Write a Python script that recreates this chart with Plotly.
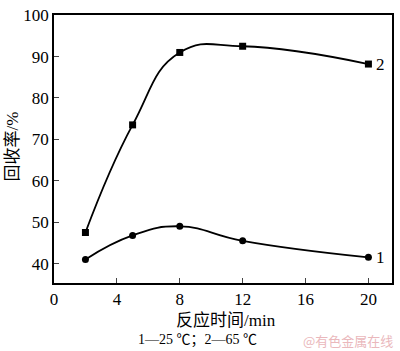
import plotly.graph_objects as go

time_min = [2, 5, 8, 12, 20]
s1_25C = [41.0, 46.8, 49.0, 45.5, 41.5]
s2_65C = [47.5, 73.5, 91.0, 92.5, 88.2]
x_ticks = [0, 4, 8, 12, 16, 20]
y_ticks = [40, 50, 60, 70, 80, 90, 100]

serif = "Liberation Serif, Times New Roman, Noto Sans CJK SC, serif"

fig = go.Figure()
fig.add_trace(go.Scatter(x=time_min, y=s2_65C, mode="lines+markers",
                         line=dict(color="black", width=1.8, shape="spline", smoothing=1.3),
                         marker=dict(symbol="square", size=7, color="black"), showlegend=False))
fig.add_trace(go.Scatter(x=time_min, y=s1_25C, mode="lines+markers",
                         line=dict(color="black", width=1.8, shape="spline", smoothing=1.3),
                         marker=dict(symbol="circle", size=7, color="black"), showlegend=False))

fig.add_annotation(x=time_min[-1], y=s2_65C[-1], text="2", showarrow=False, xanchor="left",
                   xshift=6, font=dict(family=serif, size=17, color="black"))
fig.add_annotation(x=time_min[-1], y=s1_25C[-1], text="1", showarrow=False, xanchor="left",
                   xshift=6, font=dict(family=serif, size=17, color="black"))

fig.add_annotation(x=0.509, y=-0.141, xref="paper", yref="paper", text="反应时间/min", showarrow=False,
                   xanchor="center", yanchor="middle", font=dict(family=serif, size=17, color="black"))
fig.add_annotation(x=0.426, y=-0.213, xref="paper", yref="paper", text="1—25 ℃；2—65 ℃", showarrow=False,
                   xanchor="center", yanchor="middle", font=dict(family=serif, size=14, color="black"))
fig.add_annotation(x=1.009, y=-0.213, xref="paper", yref="paper", text="@有色金属在线", showarrow=False,
                   xanchor="right", yanchor="middle", font=dict(family="Noto Sans CJK SC", size=13, color="#eab8bc"))
fig.add_annotation(x=-0.124, y=0.51, xref="paper", yref="paper", text="回收率/%", showarrow=False,
                   textangle=-90, xanchor="center", yanchor="middle",
                   font=dict(family=serif, size=17, color="black"))

fig.update_xaxes(range=[0, 21.5], tickvals=x_ticks, ticks="inside", ticklen=5, tickwidth=1.2,
                 showline=True, linecolor="black", linewidth=1.5, mirror=True, showgrid=False,
                 zeroline=False, ticklabeloverflow="allow",
                 tickfont=dict(family=serif, size=17, color="black"))
fig.update_yaxes(range=[35.3, 100.05], tickvals=y_ticks, ticks="inside", ticklen=5, tickwidth=1.2,
                 showline=True, linecolor="black", linewidth=1.5, mirror=True, showgrid=False,
                 zeroline=False, ticklabeloverflow="allow",
                 tickfont=dict(family=serif, size=17, color="black"))

fig.update_layout(width=400, height=351, margin=dict(l=54, r=8, t=6, b=68),
                  plot_bgcolor="white", paper_bgcolor="white")

fig.write_html("out.html", config={"displayModeBar": False},
               post_script="document.body.style.margin='0';document.body.style.overflow='hidden';")
